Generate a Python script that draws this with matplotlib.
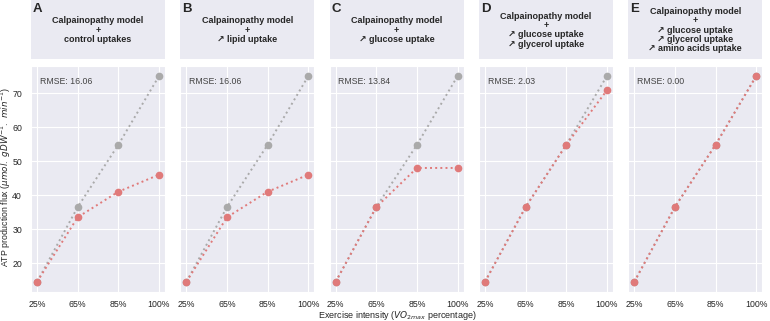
import matplotlib
matplotlib.use("Agg")
import matplotlib.pyplot as plt
import seaborn as sns

sns.set_style("darkgrid")
plt.rcParams['font.family'] = ['Liberation Sans', 'DejaVu Sans']

# data
intensities = ['25%', '65%', '85%', '100%']
reference = [14.5, 36.5, 54.8, 75.0]
panel_letters = ['A', 'B', 'C', 'D', 'E']
panel_titles = [
    'Calpainopathy model\n+\ncontrol uptakes',
    'Calpainopathy model\n+\n\u2197 lipid uptake',
    'Calpainopathy model\n+\n\u2197 glucose uptake',
    'Calpainopathy model\n+\n\u2197 glucose uptake\n\u2197 glycerol uptake',
    'Calpainopathy model\n+\n\u2197 glucose uptake\n\u2197 glycerol uptake\n\u2197 amino acids uptake',
]
model_A = [14.5, 33.5, 41.0, 46.0]
model_B = [14.5, 33.5, 41.0, 46.0]
model_C = [14.5, 36.5, 48.0, 48.0]
model_D = [14.5, 36.5, 54.8, 70.8]
model_E = [14.5, 36.5, 54.8, 75.0]
models = [model_A, model_B, model_C, model_D, model_E]
rmse = ['16.06', '16.06', '13.84', '2.03', '0.00']

W, H = 770, 321
fig = plt.figure(figsize=(W / 100, H / 100), dpi=100)

ref_color = '#aaaaaa'
model_color = '#e07a7a'
x = range(len(intensities))

for i in range(5):
    left = 31 + 149.3 * i
    ax = fig.add_axes([left / W, 1 - 292 / H, 134 / W, 226 / H])
    hx = fig.add_axes([left / W, 1 - 59 / H, 134 / W, 59 / H])
    hx.set_facecolor('#eaeaf2')
    hx.set_xticks([])
    hx.set_yticks([])
    for s in hx.spines.values():
        s.set_visible(False)
    hx.text(0.5, 0.49, panel_titles[i], ha='center', va='center', fontsize=6.5,
            fontweight='bold', linespacing=1.05, transform=hx.transAxes)
    hx.text(0.015, 0.95, panel_letters[i], ha='left', va='top', fontsize=9.5,
            fontweight='bold', transform=hx.transAxes)

    ax.plot(x, reference, linestyle=':', marker='o', color=ref_color,
            markersize=4.5, linewidth=1.4)
    ax.plot(x, models[i], linestyle=':', marker='o', color=model_color,
            markersize=4.5, linewidth=1.4)
    ax.set_xticks(list(x))
    ax.set_xticklabels(intensities)
    ax.set_ylim(11.5, 78)
    ax.set_yticks([20, 30, 40, 50, 60, 70])
    ax.tick_params(axis='x', pad=2, labelsize=6.3)
    ax.tick_params(axis='y', pad=3, labelsize=6.3)
    if i > 0:
        ax.set_yticklabels([])
    ax.text(0.065, 0.95, 'RMSE: ' + rmse[i], transform=ax.transAxes,
            fontsize=6.3, color='#444444', ha='left', va='top')

fig.text(6 / W, 1 - 177 / H,
         r'ATP production flux ($\mu mol.\ gDW^{-1}.\ min^{-1}$)',
         ha='center', va='center', rotation=90, fontsize=6.3)
fig.text(397 / W, 1 - 315 / H, r'Exercise intensity ($VO_{2max}$ percentage)',
         ha='center', va='center', fontsize=6.5)

fig.savefig('out.png', dpi=100)
